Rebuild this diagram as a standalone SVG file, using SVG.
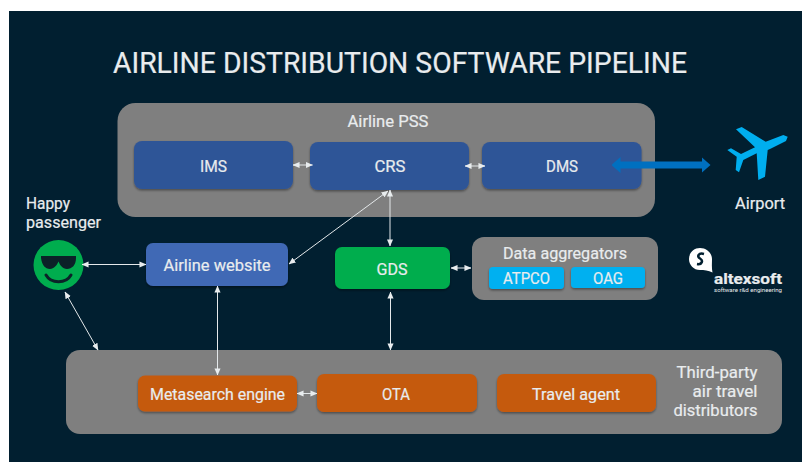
<svg xmlns="http://www.w3.org/2000/svg" width="802" height="462" viewBox="0 0 802 462">
<defs>
<filter id="sh" x="-10%" y="-20%" width="120%" height="140%"><feDropShadow dx="0" dy="1.5" stdDeviation="1.2" flood-color="#000" flood-opacity="0.4"/></filter>
<marker id="a" viewBox="0 0 8 8" refX="7.5" refY="4" markerWidth="7" markerHeight="7" markerUnits="userSpaceOnUse" orient="auto-start-reverse"><path d="M0 0.5L8 4L0 7.5Z" fill="#e8ecee"/></marker>
<marker id="b" viewBox="0 0 9 16" refX="0.5" refY="8" markerWidth="9" markerHeight="16" markerUnits="userSpaceOnUse" orient="auto-start-reverse"><path d="M0 0L9 8L0 16Z" fill="#0070c0"/></marker>
</defs>
<style>
text{font-family:Roboto,"Liberation Sans",sans-serif;font-weight:400;fill:#e9ecee;stroke:#e9ecee;stroke-width:0.2px;text-anchor:middle;font-size:16px}
.g{fill:#7f7f7f}
.blue{fill:#2f5597}
.site{fill:#4169b5}
.or{fill:#c55a11}
.cy{fill:#00b0f0}
.c{stroke:#e4e8ea;stroke-width:1;fill:none;marker-start:url(#a);marker-end:url(#a)}
</style>
<rect width="802" height="462" fill="#fff"/>
<rect x="9" y="11" width="793" height="451" fill="#011f30"/>
<text id="title" x="400" y="73" style="font-size:29px" textLength="574" lengthAdjust="spacingAndGlyphs">AIRLINE DISTRIBUTION SOFTWARE PIPELINE</text>
<g id="pss">
<rect class="g" x="117.5" y="103" width="537.5" height="114" rx="18"/>
<text x="388" y="127" textLength="81" lengthAdjust="spacingAndGlyphs">Airline PSS</text>
</g>
<g id="thirdparty">
<rect class="g" x="66" y="350" width="716" height="84" rx="14"/>
<text x="757.500" y="378" style="text-anchor:end" textLength="81" lengthAdjust="spacingAndGlyphs">Third-party</text>
<text x="757.500" y="397" style="text-anchor:end" textLength="65" lengthAdjust="spacingAndGlyphs">air travel</text>
<text x="757.500" y="416" style="text-anchor:end" textLength="84" lengthAdjust="spacingAndGlyphs">distributors</text>
</g>
<g id="aggregators">
<rect class="g" x="472" y="237" width="186" height="63" rx="12"/>
<text x="565" y="259" textLength="124" lengthAdjust="spacingAndGlyphs">Data aggregators</text>
</g>
<g id="ims"><rect class="blue" x="134" y="141" width="159" height="48" rx="8" filter="url(#sh)"/><text x="213.500" y="172" textLength="27" lengthAdjust="spacingAndGlyphs">IMS</text></g>
<g id="crs"><rect class="blue" x="310" y="142" width="159" height="48" rx="8" filter="url(#sh)"/><text x="390" y="172" textLength="31" lengthAdjust="spacingAndGlyphs">CRS</text></g>
<g id="dms"><rect class="blue" x="482" y="142" width="159.500" height="47" rx="8" filter="url(#sh)"/><text x="562" y="172" textLength="32" lengthAdjust="spacingAndGlyphs">DMS</text></g>
<g id="website"><rect class="site" x="146" y="243" width="142" height="43" rx="7" filter="url(#sh)"/><text x="217" y="271" textLength="107" lengthAdjust="spacingAndGlyphs">Airline website</text></g>
<g id="gds"><rect x="335" y="247" width="115" height="42" rx="7" fill="#00ad4e" filter="url(#sh)"/><text x="392" y="275" textLength="31" lengthAdjust="spacingAndGlyphs">GDS</text></g>
<g id="atpco"><rect class="cy" x="489" y="267" width="75" height="22" rx="4" filter="url(#sh)"/><text x="526.500" y="284" textLength="47" lengthAdjust="spacingAndGlyphs">ATPCO</text></g>
<g id="oag"><rect class="cy" x="571" y="267" width="74" height="21" rx="4" filter="url(#sh)"/><text x="608" y="284" textLength="30" lengthAdjust="spacingAndGlyphs">OAG</text></g>
<g id="meta"><rect class="or" x="138" y="375.500" width="159" height="36" rx="7" filter="url(#sh)"/><text x="217.500" y="400" textLength="135" lengthAdjust="spacingAndGlyphs">Metasearch engine</text></g>
<g id="ota"><rect class="or" x="317" y="374" width="160" height="38" rx="7" filter="url(#sh)"/><text x="396" y="400" textLength="28" lengthAdjust="spacingAndGlyphs">OTA</text></g>
<g id="agent"><rect class="or" x="497" y="374" width="159" height="38" rx="7" filter="url(#sh)"/><text x="576" y="400" textLength="88" lengthAdjust="spacingAndGlyphs">Travel agent</text></g>
<g id="passenger">
<text x="26" y="209" style="text-anchor:start" textLength="44" lengthAdjust="spacingAndGlyphs">Happy</text>
<text x="26" y="228" style="text-anchor:start" textLength="75" lengthAdjust="spacingAndGlyphs">passenger</text>
<circle cx="58.500" cy="265" r="25" fill="#00ad4e"/>
<path d="M41 256H76V258C76 265 72 269 67 269C62.500 269 60 265 58.500 261.500C57 265 54 269 50 269C45 269 42 265 41 258Z" fill="#0b2228"/>
<path d="M46 275C51 284 66 284 71 275" fill="none" stroke="#0b2228" stroke-width="3" stroke-linecap="round"/>
</g>
<g id="airport">
<path d="M736 129.300L741.700 127L765.700 141.700L783.300 135L787.700 136.700L786 141L770 149L767.700 150L765 176.700L758.300 180L756.700 153.300L743.300 160L739 172.300L735.700 170L736.700 156.700L727.300 150L731 148.300L741 154L755 147.300Z" fill="#00aeef"/>
<text x="760" y="209" textLength="50" lengthAdjust="spacingAndGlyphs">Airport</text>
</g>
<g id="logo">
<path d="M700 248C693.500 248 689 253 689 259C689 265 693.500 270 700 270C704 270 708.500 270.500 712.500 272.500C711.500 268 712 263 712 259C712 253 706.500 248 700 248Z" fill="#fff"/>
<path d="M704 254C698.500 252.500 696.500 256.500 700 258.500C703.500 260.500 702 265 697 264" fill="none" stroke="#011f30" stroke-width="2.500"/>
<text x="748" y="284" style="font-size:15px;font-weight:700" textLength="68" lengthAdjust="spacingAndGlyphs">altexsoft</text>
<text x="748" y="292" style="font-size:5.500px;stroke:none" textLength="68" lengthAdjust="spacingAndGlyphs">software r&amp;d engineering</text>
</g>
<g id="connectors">
<line class="c" x1="293" y1="165" x2="312.500" y2="165"/>
<line class="c" x1="465" y1="166" x2="485" y2="166"/>
<line class="c" x1="82" y1="264.500" x2="146" y2="264.500"/>
<line class="c" x1="388" y1="191" x2="289" y2="264"/>
<line class="c" x1="390" y1="190" x2="390" y2="246"/>
<line class="c" x1="451" y1="268" x2="471" y2="268"/>
<line class="c" x1="217.500" y1="286" x2="217.500" y2="375"/>
<line class="c" x1="390.500" y1="292" x2="390.500" y2="350"/>
<line class="c" x1="65" y1="292" x2="98" y2="350"/>
<line class="c" x1="297" y1="393.500" x2="317" y2="393.500"/>
<line x1="620" y1="165" x2="702" y2="165" stroke="#0070c0" stroke-width="7" marker-start="url(#b)" marker-end="url(#b)"/>
</g>
</svg>
